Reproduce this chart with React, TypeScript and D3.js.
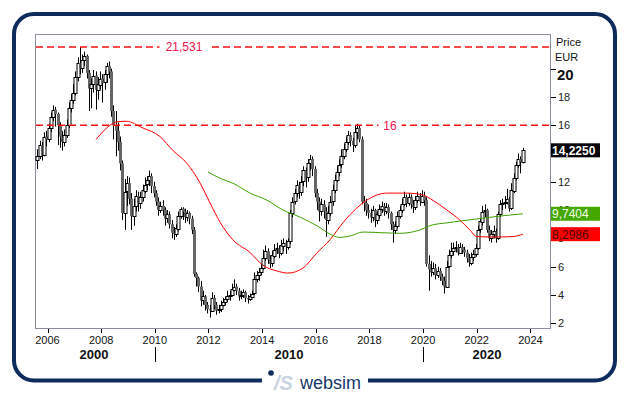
import React from "react";
import * as d3 from "d3";

// monthly candles as [high, low, close]; each open is the previous close
const firstOpen = 13.5;
const startYear = 2005;
const startMonth = 7; // August 2005

const y2005 = [[14.3, 12.9, 13.8], [14.9, 13.6, 14.6], [14.8, 13.5, 13.9], [15.5, 13.8, 15.2], [15.6, 14.5, 15.0]];
const y2006 = [[16.1, 14.8, 15.8], [16.9, 15.5, 16.6], [17.4, 16.3, 17.1], [17.3, 15.9, 16.8], [16.9, 14.6, 16.0], [16.2, 14.4, 15.2],
  [15.6, 14.2, 14.8], [15.7, 14.5, 15.3], [16.4, 15.1, 16.0], [17.6, 15.8, 17.2], [18.2, 16.9, 17.8], [18.9, 17.5, 18.3]];
const y2007 = [[19.8, 18.1, 19.4], [20.8, 19.1, 20.4], [21.53, 19.6, 20.0], [21.0, 19.7, 20.6], [21.2, 20.2, 20.9], [21.0, 19.3, 19.7],
  [19.9, 17.0, 18.6], [19.3, 17.2, 18.9], [19.9, 18.3, 19.5], [19.8, 17.1, 18.5], [19.4, 17.8, 18.9], [19.8, 18.5, 19.3]];
const y2008 = [[19.6, 17.6, 19.0], [19.9, 18.5, 19.6], [20.4, 19.0, 20.2], [20.5, 19.3, 19.8], [20.0, 16.6, 17.0], [17.4, 15.0, 16.0],
  [17.0, 13.8, 15.6], [16.2, 14.2, 14.8], [15.2, 12.8, 13.3], [13.5, 9.3, 9.8], [12.2, 8.6, 11.3], [12.4, 10.3, 11.9]];
const y2009 = [[12.3, 10.4, 10.8], [11.2, 8.6, 9.6], [10.8, 8.9, 10.3], [11.4, 9.9, 11.0], [11.3, 9.9, 10.5], [11.3, 10.1, 10.9],
  [11.8, 10.6, 11.4], [12.3, 11.2, 11.8], [12.4, 11.4, 12.1], [12.8, 11.7, 12.4], [12.6, 11.2, 11.7], [12.0, 10.9, 11.2]];
const y2010 = [[11.4, 10.3, 10.6], [10.9, 9.6, 10.0], [10.6, 9.8, 10.3], [10.7, 9.6, 10.0], [10.2, 8.9, 9.4], [10.0, 9.1, 9.7],
  [9.9, 8.7, 9.0], [9.3, 8.0, 8.4], [8.8, 7.9, 8.3], [9.0, 8.1, 8.7], [9.9, 8.5, 9.6], [10.2, 9.4, 10.1]];
const y2011 = [[10.2, 9.3, 9.9], [10.1, 9.1, 9.5], [10.0, 9.2, 9.8], [9.9, 9.0, 9.4], [9.6, 8.3, 8.6], [8.8, 5.3, 5.5],
  [5.6, 4.6, 5.2], [5.3, 4.2, 4.6], [5.0, 3.2, 3.6], [4.3, 3.3, 3.9], [4.0, 2.9, 3.3], [3.5, 2.7, 3.0]];
const y2012 = [[3.3, 2.4, 2.9], [4.2, 2.8, 3.8], [4.0, 3.0, 3.3], [3.5, 2.6, 2.9], [3.3, 2.7, 3.0], [3.6, 2.8, 3.3],
  [3.8, 3.2, 3.5], [3.9, 3.3, 3.7], [4.3, 3.5, 3.9], [4.3, 3.6, 4.0], [4.8, 3.9, 4.4], [5.1, 4.3, 4.6]];
const y2013 = [[4.8, 4.0, 4.3], [4.5, 3.6, 3.9], [4.3, 3.7, 4.0], [4.4, 3.8, 4.2], [4.3, 3.5, 3.8], [4.0, 3.4, 3.7],
  [4.1, 3.6, 3.9], [4.3, 3.8, 4.1], [5.6, 4.0, 5.1], [5.7, 4.9, 5.4], [5.9, 5.0, 5.6], [6.2, 5.4, 5.9]];
const y2014 = [[7.2, 5.8, 6.6], [7.5, 6.4, 7.1], [7.3, 6.2, 6.5], [6.8, 5.9, 6.2], [7.1, 6.0, 6.8], [7.6, 6.6, 7.2],
  [7.7, 6.9, 7.3], [7.5, 6.6, 6.9], [7.9, 6.8, 7.5], [8.0, 7.1, 7.7], [7.9, 6.9, 7.4], [8.0, 7.2, 7.8]];
const y2015 = [[10.0, 7.6, 9.8], [10.9, 9.5, 10.6], [11.5, 10.4, 11.2], [12.1, 10.9, 11.8], [12.0, 10.8, 11.3], [12.4, 11.0, 12.0],
  [13.1, 11.7, 12.8], [13.0, 11.6, 12.3], [13.6, 12.0, 13.3], [13.9, 12.8, 13.6], [13.8, 12.4, 12.9], [13.1, 10.9, 11.2]];
const y2016 = [[11.5, 10.0, 10.6], [10.9, 9.2, 9.9], [10.8, 9.6, 10.4], [10.7, 9.4, 9.9], [10.2, 8.1, 9.3], [10.3, 9.0, 9.8],
  [11.0, 9.6, 10.6], [11.8, 10.3, 11.4], [12.5, 11.2, 12.1], [13.1, 12.0, 12.7], [13.6, 12.4, 13.2], [14.3, 13.0, 13.8]];
const y2017 = [[14.7, 13.6, 14.3], [15.2, 14.1, 14.8], [15.6, 14.6, 15.3], [15.5, 14.5, 14.9], [15.1, 14.1, 14.6], [16.0, 14.4, 15.5],
  [16.1, 15.0, 15.8], [16.0, 14.8, 15.0], [15.2, 10.4, 10.6], [11.0, 9.9, 10.5], [10.8, 9.6, 10.0], [10.4, 9.4, 9.8]];
const y2018 = [[10.1, 9.1, 9.5], [10.3, 9.2, 10.0], [10.1, 8.8, 9.3], [9.9, 9.0, 9.7], [10.4, 9.4, 10.1], [10.6, 9.8, 10.3],
  [10.5, 9.6, 9.9], [10.5, 9.7, 10.2], [10.4, 9.4, 9.8], [9.9, 8.6, 9.0], [9.2, 7.7, 8.6], [9.2, 8.3, 8.9]];
const y2019 = [[9.9, 8.7, 9.6], [10.3, 9.4, 10.0], [10.8, 9.8, 10.4], [11.3, 10.3, 10.9], [11.1, 10.2, 10.5], [11.2, 10.3, 10.9],
  [11.1, 10.1, 10.4], [10.7, 9.8, 10.2], [11.0, 10.0, 10.7], [11.3, 10.5, 11.0], [11.2, 10.3, 10.6], [11.4, 10.5, 11.0]];
const y2020 = [[11.3, 10.3, 10.7], [10.9, 6.0, 6.2], [6.8, 4.3, 5.8], [6.4, 5.3, 5.6], [6.3, 5.4, 5.9], [6.2, 5.1, 5.4],
  [6.0, 5.2, 5.7], [5.9, 5.0, 5.3], [5.5, 4.7, 5.0], [5.3, 4.1, 4.6], [6.4, 4.5, 6.0], [7.2, 5.9, 6.8]];
const y2021 = [[7.7, 6.6, 7.1], [7.7, 6.8, 7.3], [7.8, 7.0, 7.4], [7.6, 6.8, 7.0], [7.7, 6.9, 7.4], [7.6, 6.9, 7.2],
  [7.4, 6.7, 7.0], [7.2, 6.3, 6.6], [6.9, 6.0, 6.3], [7.0, 6.1, 6.7], [7.2, 6.4, 6.9], [7.6, 6.7, 7.3]];
const y2022 = [[8.9, 7.2, 8.6], [9.4, 8.4, 9.2], [10.3, 8.9, 9.9], [10.4, 9.5, 10.0], [10.1, 8.4, 8.6], [8.9, 7.8, 8.0],
  [8.6, 7.7, 8.3], [8.9, 8.0, 8.5], [8.7, 7.7, 8.0], [9.9, 7.9, 9.7], [10.7, 9.5, 10.4], [10.8, 10.0, 10.5]];
const y2023 = [[11.0, 10.1, 10.6], [11.5, 10.4, 10.8], [10.9, 9.9, 10.1], [11.9, 10.0, 11.4], [12.6, 11.2, 12.3], [13.4, 12.1, 13.2],
  [14.0, 13.0, 13.6], [13.8, 12.6, 13.4], [14.4, 13.3, 14.225]];

// moving averages: [year, value]
const redAvg = [[2007.81, 15.0], [2008.63, 16.25], [2008.93, 16.28], [2009.56, 15.8], [2010.19, 15.2], [2010.68, 14.2],
  [2011.2, 13.3], [2011.69, 11.9], [2012.06, 10.5], [2012.43, 9.15], [2012.91, 7.9], [2013.55, 7.0], [2014.03, 6.1],
  [2014.55, 5.7], [2014.96, 5.55], [2015.52, 5.9], [2016.04, 6.97], [2016.53, 7.9], [2017.01, 9.1], [2017.53, 10.15],
  [2017.9, 10.7], [2018.65, 11.2], [2019.4, 11.2], [2019.99, 11.07], [2020.36, 10.7], [2020.89, 10.0], [2021.37, 9.3],
  [2021.74, 8.6], [2022.0, 8.13], [2022.68, 8.1], [2023.35, 8.13], [2023.72, 8.3]];
const greenAvg = [[2011.98, 12.7], [2012.43, 12.25], [2012.91, 11.9], [2013.55, 11.2], [2014.18, 10.7], [2014.78, 10.0],
  [2015.42, 9.5], [2016.04, 8.9], [2016.64, 8.2], [2016.9, 8.07], [2017.27, 8.17], [2017.76, 8.45], [2018.5, 8.4],
  [2019.14, 8.36], [2019.88, 8.6], [2020.25, 8.9], [2020.89, 9.1], [2021.48, 9.25], [2022.11, 9.4], [2022.97, 9.6],
  [2023.72, 9.74]];

const refLevels = [21.531, 16];
const refLabelX = [184, 390];
const lastPrice = 14.225;
const greenLast = 9.7404;
const redLast = 8.2986;

const yearTicks = [2006, 2008, 2010, 2012, 2014, 2016, 2018, 2020, 2022, 2024];
const decadeLabels = ["2000", "2010", "2020"];
const decadeLabelX = [94, 289, 487];
const decadeBreaks = [2010, 2020];
const priceTicks = [2, 4, 6, 8, 10, 12, 14, 16, 18, 20];
// 14 sits fully under the last-price box, so only its tick mark shows
const hiddenTickLabels = [14];

const FONT = "'Liberation Sans', Arial, sans-serif";
const NAVY = "#0d2b5b";

const fmt = (v: number, d: number) => v.toFixed(d).replace(".", ",");

export default function App() {
  const plot = { left: 35, right: 550, top: 34, bottom: 328 };
  const x = d3.scaleLinear().domain([2006, 2024]).range([47.5, 530.4]);
  const y = d3.scaleLinear().domain([2, 20]).range([323.3, 68.6]);

  const rows = [y2005, y2006, y2007, y2008, y2009, y2010, y2011, y2012, y2013, y2014, y2015, y2016,
    y2017, y2018, y2019, y2020, y2021, y2022, y2023].flat();
  let prev = firstOpen;
  const candles = rows.map((r, i) => {
    const m = startMonth + i;
    const t = startYear + Math.floor(m / 12) + ((m % 12) + 0.5) / 12;
    const c = { t, open: prev, high: r[0], low: r[1], close: r[2] };
    prev = r[2];
    return c;
  });

  const line = d3.line<number[]>().x(d => x(d[0])).y(d => y(d[1])).curve(d3.curveMonotoneX);

  // outer frame, open at the bottom for the logo
  const L = 14, R = 615, T = 14, B = 380.5, rad = 20;
  const frame = `M368,${B} L${R - rad},${B} A${rad},${rad} 0 0 0 ${R},${B - rad} L${R},${T + rad} A${rad},${rad} 0 0 0 ${R - rad},${T}
    L${L + rad},${T} A${rad},${rad} 0 0 0 ${L},${T + rad} L${L},${B - rad} A${rad},${rad} 0 0 0 ${L + rad},${B} L262,${B}`;

  return (
    <svg width={629} height={395} style={{ position: "absolute", left: 0, top: 0, background: "#fff" }}
      fontFamily={FONT}>
      <rect x={0} y={0} width={629} height={395} fill="#fff" />
      <path d={frame} fill="none" stroke={NAVY} strokeWidth={4} />

      <rect x={plot.left + 0.5} y={plot.top + 0.5} width={plot.right - plot.left} height={plot.bottom - plot.top}
        fill="#fff" stroke="#8e8e9e" strokeWidth={1} />

      {/* candles */}
      <g>
        {candles.map((c, i) => {
          const cx = Math.round(x(c.t));
          const up = c.close >= c.open;
          const top = y(Math.max(c.open, c.close));
          const bot = y(Math.min(c.open, c.close));
          return (
            <g key={i}>
              <line x1={cx + 0.5} x2={cx + 0.5} y1={y(c.high)} y2={y(c.low)} stroke="#000" strokeWidth={1} />
              {up ? (
                <rect x={cx - 1} y={Math.round(top) + 0.5} width={3} height={Math.max(1, Math.round(bot - top))}
                  fill="#fff" stroke="#000" strokeWidth={1} />
              ) : (
                <rect x={cx - 1} y={top} width={3} height={Math.max(1, bot - top)} fill="#666" />
              )}
            </g>
          );
        })}
      </g>

      <path d={line(redAvg) || ""} fill="none" stroke="#ff0000" strokeWidth={1} />
      <path d={line(greenAvg) || ""} fill="none" stroke="#3fa000" strokeWidth={1} />

      {/* reference levels */}
      {refLevels.map((v, i) => {
        const label = Number.isInteger(v) ? String(v) : fmt(v, 3);
        const w = label.length * 6.5 + 10;
        return (
          <g key={v}>
            <line x1={plot.left + 1} x2={plot.right} y1={y(v)} y2={y(v)}
              style={{ stroke: "#ff1010" }} strokeWidth={1.5} strokeDasharray="7,4" />
            <rect x={refLabelX[i] - w / 2} y={y(v) - 7} width={w} height={14} fill="#fff" />
            <text x={refLabelX[i]} y={y(v) + 4.5} textAnchor="middle" fontSize={12} fill="#f0144a">{label}</text>
          </g>
        );
      })}

      {/* price axis */}
      <text x={556} y={46} fontSize={11} fill="#111">Price</text>
      <text x={555} y={61} fontSize={11} fill="#111">EUR</text>
      {priceTicks.map(v => (
        <g key={v}>
          <line x1={551} x2={556} y1={Math.round(y(v)) + 0.5} y2={Math.round(y(v)) + 0.5} stroke="#000" />
          {hiddenTickLabels.includes(v) ? null : v === 20 ? (
            <text x={557} y={y(v) + 11} fontSize={15} fontWeight="bold" fill="#111">{v}</text>
          ) : (
            <text x={558} y={y(v) + 4} fontSize={11} fill="#222">{v}</text>
          )}
        </g>
      ))}

      <rect x={551} y={y(lastPrice) - 7} width={49} height={14} fill="#000" />
      <text x={552} y={y(lastPrice) + 4.5} fontSize={12} fontWeight="bold" fill="#fff">{fmt(lastPrice, 4)}</text>
      <rect x={551} y={y(greenLast) - 7} width={49} height={14} fill="#44a800" />
      <text x={552} y={y(greenLast) + 4.5} fontSize={12} fill="#f4ffe8">{fmt(greenLast, 4)}</text>
      <rect x={551} y={y(redLast) - 7} width={49} height={14} fill="#ff0000" />
      <text x={552} y={y(redLast) + 4.5} fontSize={12} fill="#4a0000">{fmt(redLast, 4)}</text>

      {/* time axis */}
      {yearTicks.map(t => (
        <g key={t}>
          <line x1={Math.round(x(t)) + 0.5} x2={Math.round(x(t)) + 0.5} y1={329} y2={333} stroke="#000" />
          <text x={x(t)} y={344} textAnchor="middle" fontSize={11} fill="#111">{t}</text>
        </g>
      ))}
      {decadeLabels.map((d, i) => (
        <text key={d} x={decadeLabelX[i]} y={359} textAnchor="middle" fontSize={13} fontWeight="bold" fill="#111">{d}</text>
      ))}
      {decadeBreaks.map(t => (
        <line key={t} x1={Math.round(x(t)) + 0.5} x2={Math.round(x(t)) + 0.5} y1={347} y2={362} stroke="#000" />
      ))}

      {/* logo */}
      <circle cx={271} cy={373} r={2.8} fill={NAVY} />
      <text x={274} y={390} fontSize={20} fontWeight="bold" fontStyle="italic" fill="#c9d4e3">/S</text>
      <text x={300} y={389} fontSize={18} fill="#17386b">websim</text>
    </svg>
  );
}
